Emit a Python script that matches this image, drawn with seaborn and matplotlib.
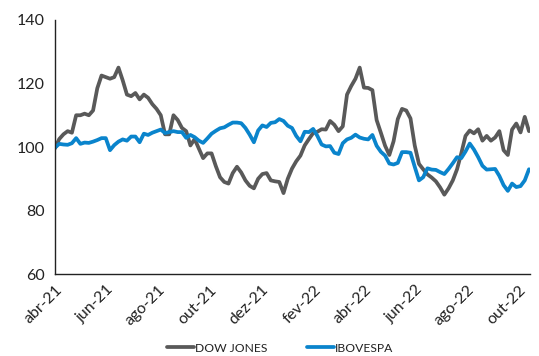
import numpy as np
import pandas as pd
import matplotlib
matplotlib.use("Agg")
import matplotlib.pyplot as plt
import matplotlib.dates as mdates
from matplotlib.ticker import FuncFormatter
import seaborn as sns

# Indices rebased to 100 on 2021-04-01, sampled every 5 days
start_date = "2021-04-01"
step = "5D"

dow_jones = [
    99.6, 102.5, 104.0, 105.0, 104.5, 110.0, 110.0, 110.5, 110.0, 111.5,
    118.5, 122.5, 122.0, 121.5, 122.0, 125.0, 121.0, 116.5, 116.0, 117.0,
    115.0, 116.5, 115.5, 113.5, 112.0, 110.0, 104.0, 104.0, 110.0, 108.5,
    106.0, 105.0, 100.5, 102.5, 99.5, 96.5, 98.0, 98.0, 94.0, 90.5,
    89.0, 88.5, 91.8, 93.8, 92.0, 89.5, 87.8, 87.0, 90.0, 91.5,
    91.8, 89.5, 89.2, 89.0, 85.5, 90.0, 93.2, 95.5, 97.3, 100.5,
    102.5, 104.4, 104.8, 105.6, 105.5, 108.2, 107.0, 105.0, 106.5, 116.5,
    119.2, 121.5, 125.0, 118.7, 118.6, 117.9, 108.5, 104.5, 100.4, 97.5,
    101.8, 108.8, 112.0, 111.5, 109.0, 100.5, 94.7, 93.0, 91.4, 90.4,
    89.2, 87.3, 85.0, 87.0, 89.5, 93.0, 98.0, 103.5, 105.2, 104.3,
    105.6, 102.0, 103.5, 102.0, 103.0, 105.0, 99.0, 97.5, 105.5, 107.4,
    104.6, 109.5, 105.0,
]

ibovespa = [
    99.8, 101.0, 100.8, 100.7, 101.2, 102.8, 101.0, 101.4, 101.3, 101.7,
    102.2, 102.8, 102.8, 99.0, 100.6, 101.7, 102.4, 102.0, 103.3, 103.3,
    101.5, 104.2, 103.8, 104.5, 105.0, 105.5, 104.4, 104.7, 105.0, 104.7,
    104.7, 102.9, 103.8, 103.1, 102.0, 101.3, 102.7, 104.2, 105.1, 105.9,
    106.2, 107.0, 107.7, 107.7, 107.5, 106.0, 103.9, 101.5, 105.2, 106.8,
    106.3, 107.6, 107.8, 108.8, 108.2, 106.7, 106.0, 103.5, 101.8, 104.8,
    104.7, 105.7, 103.5, 100.8, 100.2, 100.3, 98.2, 97.8, 101.2, 102.4,
    102.9, 103.9, 103.0, 102.6, 102.4, 103.8, 100.4, 98.5, 97.3, 94.8,
    94.5, 95.0, 98.4, 98.4, 98.2, 93.8, 89.5, 90.5, 93.3, 92.9,
    92.8, 92.1, 91.5, 93.1, 94.9, 96.8, 96.5, 98.6, 101.1, 99.2,
    96.8, 94.1, 92.9, 93.0, 93.1, 90.9, 88.0, 86.2, 88.5, 87.4,
    87.7, 89.5, 93.0,
]

series_names = ["DOW JONES", "IBOVESPA"]
series_colors = ["#595959", "#0A84CC"]
month_abbr = ["jan", "fev", "mar", "abr", "mai", "jun",
              "jul", "ago", "set", "out", "nov", "dez"]
y_ticks = [60, 80, 100, 120, 140]

dates = pd.date_range(start_date, periods=len(dow_jones), freq=step)
df = pd.concat([
    pd.DataFrame({"data": dates, "valor": dow_jones, "serie": series_names[0]}),
    pd.DataFrame({"data": dates, "valor": ibovespa, "serie": series_names[1]}),
])

sns.set_style("white")
plt.rcParams["font.family"] = ["Lato", "DejaVu Sans"]

fig = plt.figure(figsize=(5.39, 3.56), dpi=100)
ax = fig.add_axes([0.102, 0.230, 0.881, 0.714])

sns.lineplot(data=df, x="data", y="valor", hue="serie",
             palette=dict(zip(series_names, series_colors)),
             linewidth=2.7, ax=ax, legend=False)

ax.set_xlim(pd.Timestamp(start_date), pd.Timestamp("2022-10-14"))
ax.set_ylim(y_ticks[0], y_ticks[-1])
ax.set_yticks(y_ticks)
ax.set_xlabel("")
ax.set_ylabel("")

ax.xaxis.set_major_locator(mdates.MonthLocator(bymonth=[2, 4, 6, 8, 10, 12]))
ax.xaxis.set_major_formatter(FuncFormatter(
    lambda v, _: "{}-{}".format(month_abbr[mdates.num2date(v).month - 1],
                                mdates.num2date(v).strftime("%y"))))

for side in ["top", "right"]:
    ax.spines[side].set_visible(False)
for side in ["left", "bottom"]:
    ax.spines[side].set_color("#222222")
    ax.spines[side].set_linewidth(1.0)

ax.tick_params(axis="both", which="major", direction="out", length=4.2,
               width=1.0, color="#222222", labelsize=11.5,
               labelcolor="#222222")
ax.tick_params(axis="y", pad=3)
ax.tick_params(axis="x", pad=2)
for lbl in ax.get_xticklabels():
    lbl.set_rotation(45)
    lbl.set_ha("right")
    lbl.set_rotation_mode("anchor")

handles = [plt.Line2D([], [], color=c, linewidth=2.7) for c in series_colors]
fig.legend(handles, series_names, loc="center", bbox_to_anchor=(0.52, 0.022),
           ncol=2, frameon=False, fontsize=8.7, handlelength=2.2,
           handletextpad=0.1, columnspacing=3.3, labelcolor="#222222")

fig.savefig("out.png", dpi=100)
